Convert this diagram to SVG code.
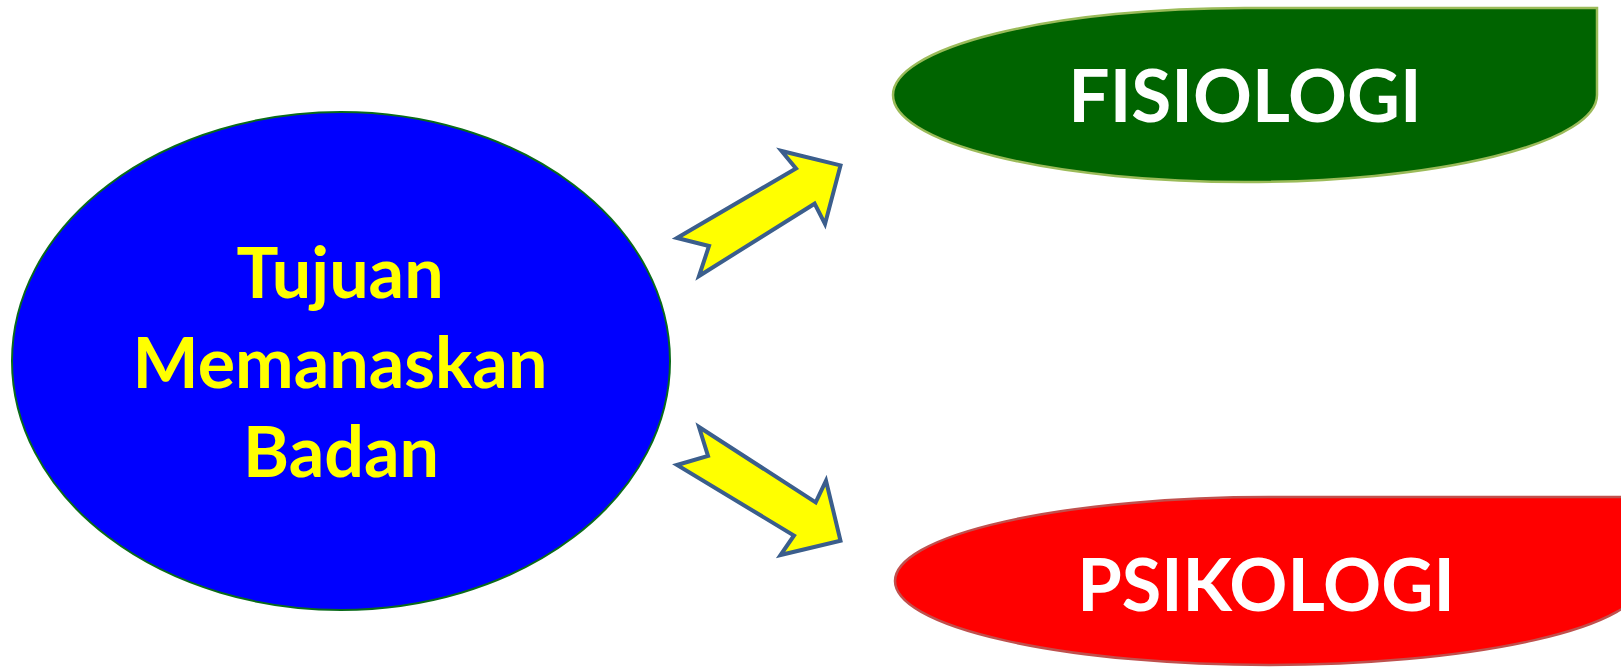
<svg xmlns="http://www.w3.org/2000/svg" width="1621" height="670" viewBox="0 0 1621 670">
<style>
.lbl{font-family:Lato,"Open Sans","Liberation Sans",sans-serif;font-weight:bold;text-anchor:middle}
.arrow{fill:#ffff00;stroke:#3b5e8c;stroke-width:4;stroke-linejoin:miter}
</style>
<rect width="1621" height="670" fill="#ffffff"/>
<g id="node-tujuan">
<ellipse cx="341" cy="361" rx="329" ry="249" fill="#0000ff" stroke="#0a6a1a" stroke-width="2"/>
<text class="lbl" x="340" y="298" font-size="70" fill="#ffff00">Tujuan</text>
<text class="lbl" x="340" y="388" font-size="70" fill="#ffff00">Memanaskan</text>
<text class="lbl" x="341" y="477" font-size="70" fill="#ffff00">Badan</text>
</g>
<g id="node-fisiologi">
<path d="M893,95 A352,87 0 0 1 1245,8 L1597,8 L1597,95 A352,87 0 0 1 1245,182 A352,87 0 0 1 893,95 Z" fill="#006400" stroke="#9bbb59" stroke-width="2.5"/>
<text class="lbl" x="1245" y="122" font-size="73" fill="#ffffff">FISIOLOGI</text>
</g>
<g id="node-psikologi">
<path d="M895,581 A374,84 0 0 1 1269,497 L1643,497 L1643,581 A374,84 0 0 1 1269,665 A374,84 0 0 1 895,581 Z" fill="#ff0000" stroke="#c0504d" stroke-width="2.5"/>
<text class="lbl" x="1266" y="611" font-size="72" fill="#ffffff">PSIKOLOGI</text>
</g>
<g id="connectors">
<polygon class="arrow" points="677,238 796,168.5 781.5,151 840.5,165.4 825,224 814.6,203.7 699,276 709,246"/>
<polygon class="arrow" points="699,427 815.7,502.4 826,480.7 840.5,540.7 780.5,555 794,535.5 677,465 708,456"/>
</g>
</svg>
